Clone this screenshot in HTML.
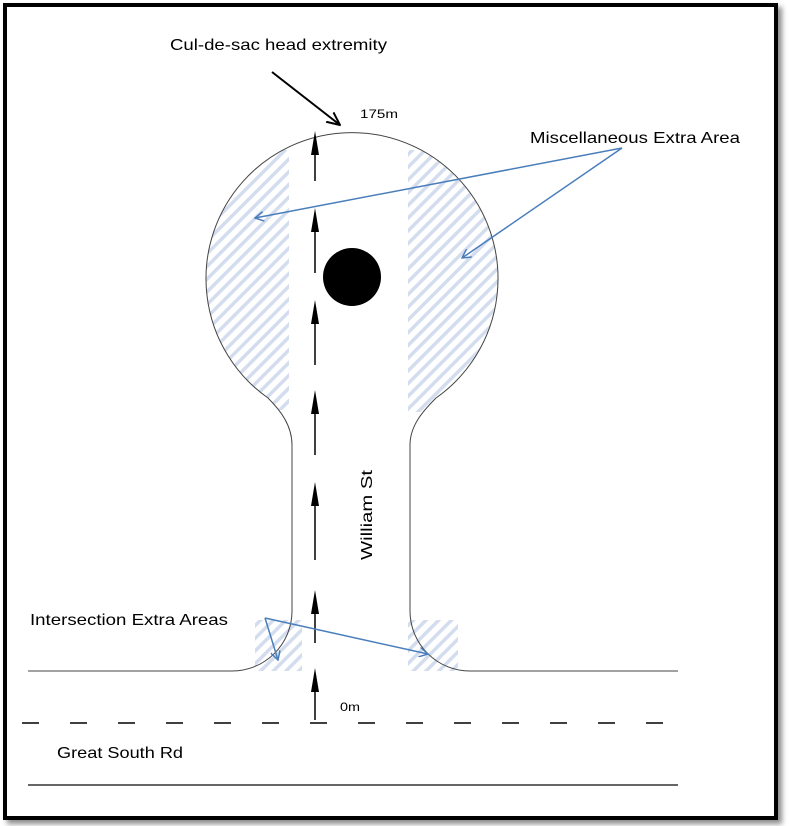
<!DOCTYPE html>
<html><head><style>
html,body{margin:0;padding:0;background:#fff;}
body{width:789px;height:826px;position:relative;overflow:hidden;font-family:"Liberation Sans",sans-serif;}
.frame{position:absolute;left:3px;top:3px;width:767px;height:809px;border:4px solid #000;box-shadow:4px 4px 5px rgba(0,0,0,0.45);background:#fff;}
svg{position:absolute;left:0;top:0;}
</style></head><body>
<div class="frame"></div>
<svg width="789" height="826" viewBox="0 0 789 826">
<defs>
<pattern id="h" patternUnits="userSpaceOnUse" width="9" height="9" patternTransform="rotate(45)">
<rect width="9" height="9" fill="#fff"/>
<rect width="3.5" height="9" fill="#d3ddee"/>
</pattern>
<clipPath id="c"><path d="M28 671 L232 671 A60 60 0 0 0 292 611 L292 445 C292 425 280 410 268 398 A146 146 0 1 1 436 398 C424 410 410 425 410 445 L410 611 A60 60 0 0 0 470 671 L678 671 L678 700 L28 700 Z"/></clipPath>
<marker id="ab" markerWidth="10" markerHeight="10" refX="9" refY="5" orient="auto" markerUnits="userSpaceOnUse"><path d="M0 0 L9 5 L0 10" fill="none" stroke="#4a7ebb" stroke-width="1.5"/></marker>
<marker id="ak" markerWidth="14" markerHeight="14" refX="13" refY="7" orient="auto" markerUnits="userSpaceOnUse"><path d="M0 1 L13 7 L0 13" fill="none" stroke="#000" stroke-width="2"/></marker>
</defs>
<g clip-path="url(#c)">
<rect x="206" y="150" width="83" height="260" fill="url(#h)"/>
<rect x="408" y="150" width="90" height="262" fill="url(#h)"/>
</g>
<rect x="255" y="620" width="47" height="51" fill="url(#h)"/>
<rect x="408" y="620" width="50" height="51" fill="url(#h)"/>
<path d="M28 671 L232 671 A60 60 0 0 0 292 611 L292 445 C292 425 280 410 268 398 A146 146 0 1 1 436 398 C424 410 410 425 410 445 L410 611 A60 60 0 0 0 470 671 L678 671" fill="none" stroke="#444" stroke-width="1"/>
<line x1="28" y1="785" x2="678" y2="785" stroke="#666" stroke-width="2"/>
<line x1="22" y1="723" x2="678" y2="723" stroke="#000" stroke-width="1.5" stroke-dasharray="17,31"/>
<circle cx="352" cy="277" r="29" fill="#000"/>
<g stroke="#000" stroke-width="1.5">
<line x1="315" y1="720" x2="315" y2="680"/>
<line x1="315" y1="643" x2="315" y2="600"/>
<line x1="315" y1="560" x2="315" y2="495"/>
<line x1="315" y1="455" x2="315" y2="400"/>
<line x1="315" y1="365" x2="315" y2="310"/>
<line x1="315" y1="273" x2="315" y2="218"/>
<line x1="315" y1="181" x2="315" y2="141"/>
</g>
<g fill="#000">
<path d="M315 131 L311 155 L319 155Z"/>
<path d="M315 208 L311 232 L319 232Z"/>
<path d="M315 300 L311 324 L319 324Z"/>
<path d="M315 390 L311 414 L319 414Z"/>
<path d="M315 482 L311 506 L319 506Z"/>
<path d="M315 590 L311 614 L319 614Z"/>
<path d="M315 668 L311 692 L319 692Z"/>
</g>
<line x1="272" y1="72" x2="340" y2="125" stroke="#000" stroke-width="2" marker-end="url(#ak)"/>
<g stroke="#4a7ebb" stroke-width="1.5" fill="none">
<line x1="622" y1="148" x2="255" y2="218" marker-end="url(#ab)"/>
<line x1="622" y1="148" x2="462" y2="258" marker-end="url(#ab)"/>
<line x1="265" y1="618" x2="278" y2="660" marker-end="url(#ab)"/>
<line x1="265" y1="618" x2="428" y2="654" marker-end="url(#ab)"/>
</g>
<g font-family="Liberation Sans, sans-serif" fill="#000">
<text x="170" y="50" font-size="16" textLength="217" lengthAdjust="spacingAndGlyphs">Cul-de-sac head extremity</text>
<text x="360" y="118" font-size="12" textLength="38" lengthAdjust="spacingAndGlyphs">175m</text>
<text x="530" y="143" font-size="16" textLength="210" lengthAdjust="spacingAndGlyphs">Miscellaneous Extra Area</text>
<text x="30" y="625" font-size="16" textLength="198" lengthAdjust="spacingAndGlyphs">Intersection Extra Areas</text>
<text x="340" y="711" font-size="12" textLength="20" lengthAdjust="spacingAndGlyphs">0m</text>
<text x="57" y="758" font-size="16" textLength="126" lengthAdjust="spacingAndGlyphs">Great South Rd</text>
<text transform="translate(372,560) rotate(-90)" font-size="16" textLength="90" lengthAdjust="spacingAndGlyphs">William St</text>
</g>
</svg>
</body></html>
